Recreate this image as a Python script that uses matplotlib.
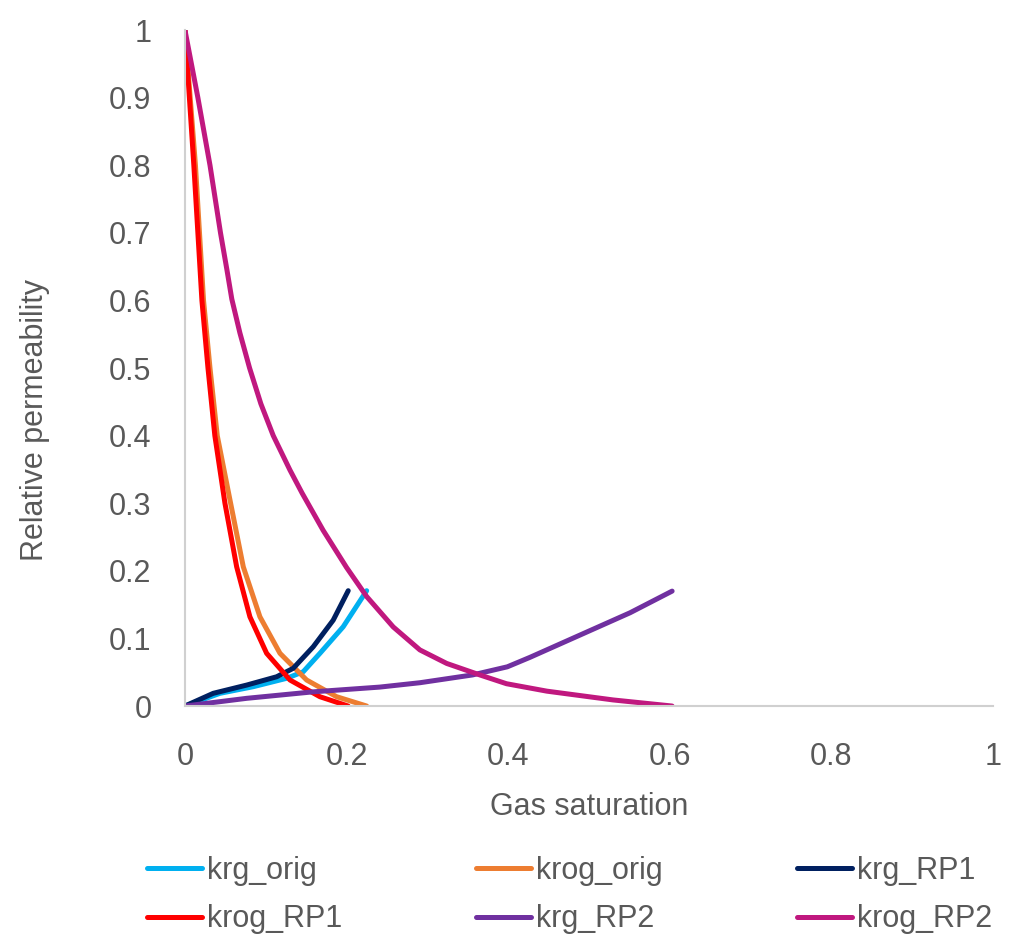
import matplotlib.pyplot as plt

sg_krg_orig = [0, 0.0433, 0.0845, 0.1259, 0.1464, 0.1671, 0.1959, 0.2249]
krg_orig = [0, 0.0188, 0.0286, 0.041, 0.0507, 0.078, 0.1173, 0.1706]

sg_krog_orig = [0, 0.013, 0.018, 0.023, 0.031, 0.040, 0.0557, 0.0722, 0.0928, 0.1176,
                0.1506, 0.1877, 0.2249]
krog_orig = [1, 0.8, 0.7, 0.6, 0.5, 0.4, 0.305, 0.206, 0.132, 0.078, 0.0385, 0.0138, 0]

sg_krg_rp1 = [0, 0.035, 0.0764, 0.1135, 0.134, 0.1588, 0.1835, 0.2021]
krg_rp1 = [0, 0.0188, 0.031, 0.0433, 0.0558, 0.0877, 0.127, 0.1706]

sg_krog_rp1 = [0, 0.011, 0.016, 0.021, 0.0285, 0.037, 0.0495, 0.064, 0.0804, 0.1011,
               0.130, 0.167, 0.202]
krog_rp1 = [1, 0.8, 0.7, 0.6, 0.5, 0.4, 0.3, 0.206, 0.132, 0.078, 0.0385, 0.0138, 0]

sg_krg_rp2 = [0, 0.0764, 0.1588, 0.241, 0.291, 0.356, 0.399, 0.427, 0.489, 0.551, 0.603]
krg_rp2 = [0, 0.0114, 0.021, 0.028, 0.0345, 0.046, 0.058, 0.072, 0.105, 0.138, 0.170]

sg_krog_rp2 = [0, 0.016, 0.031, 0.044, 0.052, 0.058, 0.068, 0.080, 0.094, 0.1093, 0.130,
               0.145, 0.171, 0.200, 0.2249, 0.2578, 0.2908, 0.324, 0.365, 0.398, 0.448,
               0.530, 0.603]
krog_rp2 = [1, 0.9, 0.8, 0.7, 0.645, 0.602, 0.552, 0.5, 0.447, 0.400, 0.349,
            0.315, 0.260, 0.205, 0.162, 0.117, 0.083, 0.063, 0.046, 0.033, 0.022,
            0.009, 0]

names = ['krg_orig', 'krog_orig', 'krg_RP1', 'krog_RP1', 'krg_RP2', 'krog_RP2']
colors = ['#00B0F0', '#ED7D31', '#002060', '#FF0000', '#7030A0', '#C0187F']
series = [(sg_krg_orig, krg_orig), (sg_krog_orig, krog_orig), (sg_krg_rp1, krg_rp1),
          (sg_krog_rp1, krog_rp1), (sg_krg_rp2, krg_rp2), (sg_krog_rp2, krog_rp2)]

font = 'Liberation Sans'
fs = 22
txt = '#595959'

fig = plt.figure(figsize=(10.09, 9.42), dpi=100)
ax = fig.add_axes([0.1833, 0.2505, 0.8007, 0.7176])

handles = []
for (x, y), name, c in zip(series, names, colors):
    h, = ax.plot(x, y, color=c, linewidth=3.6, label=name,
                 solid_capstyle='round', solid_joinstyle='round')
    handles.append(h)

ax.set_xlim(0, 1)
ax.set_ylim(0, 1)
ax.set_xticks([0, 0.2, 0.4, 0.6, 0.8, 1])
ax.set_xticklabels(['0', '0.2', '0.4', '0.6', '0.8', '1'])
ax.set_yticks([i / 10 for i in range(11)])
ax.set_yticklabels(['0'] + ['0.%d' % i for i in range(1, 10)] + ['1'])
for s in ['top', 'right']:
    ax.spines[s].set_visible(False)
for s in ['left', 'bottom']:
    ax.spines[s].set_color('#d0d0d0')
    ax.spines[s].set_linewidth(1.5)
ax.tick_params(axis='x', length=0, pad=26, colors=txt)
ax.tick_params(axis='y', length=0, pad=24, colors=txt)
for lab in ax.get_xticklabels() + ax.get_yticklabels():
    lab.set_fontfamily(font)
    lab.set_fontsize(fs)

ax.set_xlabel('Gas saturation', fontsize=fs, family=font, color=txt, labelpad=14)
ax.set_ylabel('Relative permeability', fontsize=fs, family=font, color=txt)
ax.yaxis.set_label_coords(-0.167, 0.423)

# legend filled column by column -> reorder to match row layout
order = [0, 3, 1, 4, 2, 5]
fig.legend([handles[i] for i in order], [names[i] for i in order],
           loc='upper left', bbox_to_anchor=(0.1457, 0.0913), ncol=3, frameon=False,
           prop={'family': font, 'size': fs}, labelcolor=txt,
           handlelength=1.8, handletextpad=0.15, columnspacing=4.4,
           labelspacing=0.6, borderpad=0, borderaxespad=0)

fig.savefig('out.png', dpi=100)
